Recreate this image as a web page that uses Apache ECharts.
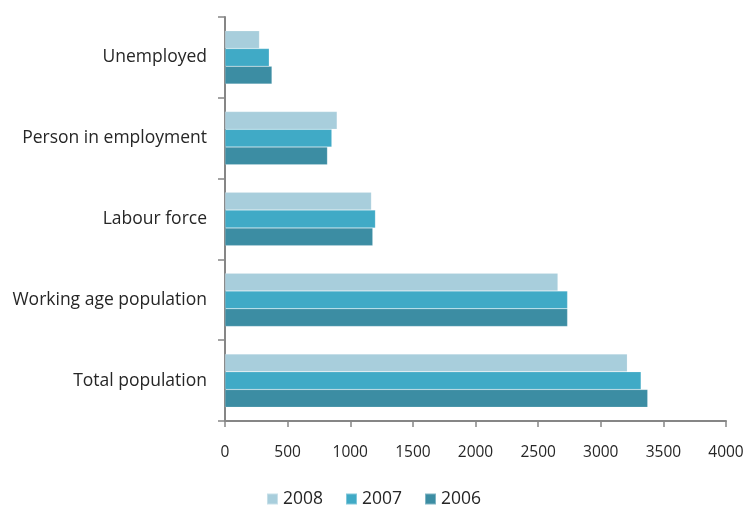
<!DOCTYPE html>
<html><head><meta charset="utf-8">
<script src="https://cdn.jsdelivr.net/npm/echarts@6/dist/echarts.min.js"></script>
<style>html,body{margin:0;padding:0;background:#fff}#c{width:747px;height:506px}</style>
</head><body><div id="c"></div>
<script>
const categories = ["Total population", "Working age population", "Labour force", "Person in employment", "Unemployed"];
const v2006 = [3375, 2735, 1180, 818, 375];
const v2007 = [3322, 2735, 1201, 853, 353];
const v2008 = [3212, 2658, 1169, 895, 275];
const xTicks = {min: 0, max: 4000, interval: 500};

const chart = echarts.init(document.getElementById('c'), null, {renderer: 'canvas'});
const font = "'Open Sans', 'Noto Sans', sans-serif";
function s(name, data, color) {
  return {name, type: 'bar', data, barGap: '0%', barCategoryGap: '34%',
    itemStyle: {color, borderColor: 'rgba(255,255,255,0.35)', borderWidth: 0.5}};
}
chart.setOption({
  animation: false,
  textStyle: {fontFamily: font},
  grid: {left: 225, right: 21, top: 17, bottom: 85},
  legend: {top: 485, left: 'center', data: ['2008', '2007', '2006'], itemWidth: 11, itemHeight: 11, itemGap: 22,
    icon: 'rect', textStyle: {fontSize: 17.5, color: '#262626', fontFamily: font}},
  xAxis: {type: 'value', min: xTicks.min, max: xTicks.max, interval: xTicks.interval,
    axisLine: {show: true, lineStyle: {color: '#868686', width: 2}},
    axisTick: {show: true, length: 6, lineStyle: {color: '#868686', width: 1.5}},
    splitLine: {show: false},
    axisLabel: {fontSize: 15.5, color: '#262626', margin: 24, fontFamily: font, formatter: v => String(v)}},
  yAxis: {type: 'category', data: categories,
    axisLine: {show: true, lineStyle: {color: '#868686', width: 2}},
    axisTick: {show: true, length: 7, lineStyle: {color: '#868686', width: 1.5}},
    axisLabel: {fontSize: 17.5, color: '#262626', margin: 18, fontFamily: font}},
  series: [s('2008', v2008, '#A8CEDC'), s('2007', v2007, '#40AAC6'), s('2006', v2006, '#3C8DA3')]
});
</script></body></html>
